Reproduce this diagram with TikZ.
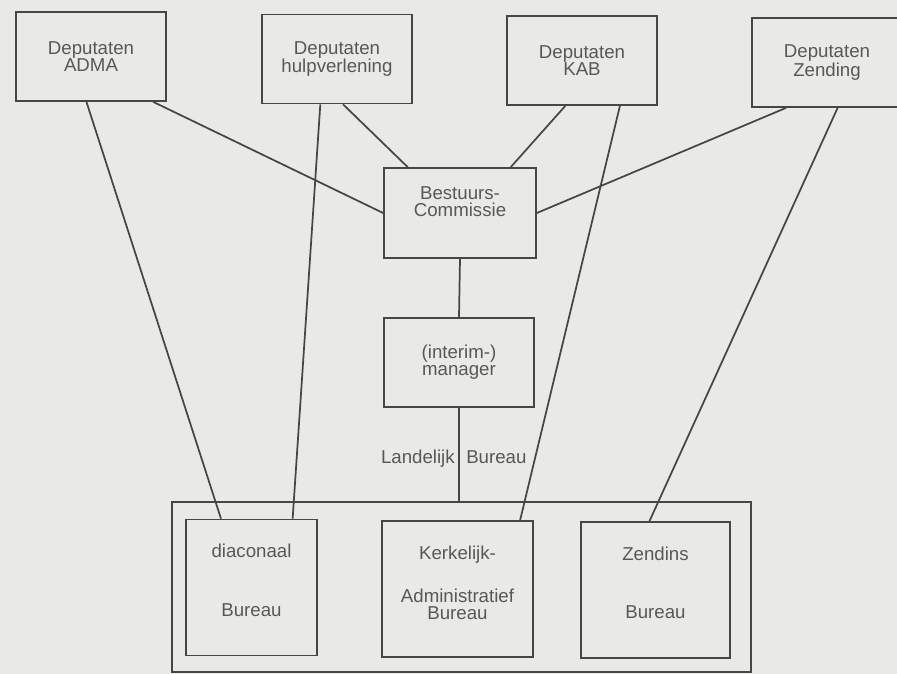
\documentclass[tikz,border=0pt]{standalone}
\usepackage{fontspec}
\setmainfont{Liberation Sans}
\usetikzlibrary{positioning,calc}

\definecolor{paper}{RGB}{233,233,230}
\definecolor{ink}{RGB}{70,70,70}
\definecolor{print}{RGB}{88,88,88}

\tikzset{basic/.style={draw=ink,line width=1.3pt,fill=paper,inner sep=0pt,align=center,text=print,font=\fontsize{14}{12.75}\selectfont}}
\tikzset{orgbox/.style={basic,minimum width=112.5pt,minimum height=66.75pt}}
\tikzset{bureau/.style={basic,minimum height=102pt}}
\tikzset{caption/.style={inner sep=0pt,align=center,text=print,font=\fontsize{14}{12.75}\selectfont}}
\tikzset{link/.style={draw=ink,line width=1.3pt}}

\begin{document}
\begin{tikzpicture}[x=0.75pt, y=-0.75pt]

	\fill [paper] (0,0) rectangle (897,674);
	\useasboundingbox (0,0) rectangle (897,674);

	% deputaten
	\foreach \n/\l/\x/\y in {adma/ADMA/91/56.5, hulp/hulpverlening/337/59, kab/KAB/582/60.5, zending/Zending/827/62.5}
	  \node [orgbox] (\n) at (\x,\y) {Deputaten\\\l};

	% bestuur and manager
	\node [orgbox, minimum width=114pt, minimum height=67.5pt] (bestuur) at (460,213) {Bestuurs-\\Commissie\\[4pt]};
	\node [orgbox] (manager) at (459,362.5) {(interim-)\\manager};

	% landelijk bureau
	\node [draw=ink, line width=1.3pt, minimum width=434.25pt, minimum height=127.5pt] (frame) at (461.5,587) {};
	\node [bureau, minimum width=98.25pt] (diac) at (251.5,587.5) {};
	\node [bureau, minimum width=113.25pt] (kerk) at (457.5,589) {};
	\node [bureau, minimum width=111.75pt] (zend) at (655.5,590) {};

	\node [caption, below=19pt of diac.north] (diac-text) {diaconaal\\[31pt]Bureau};
	\node [caption, below=19pt of kerk.north] (kerk-text) {Kerkelijk-\\[18.75pt]Administratief\\Bureau};
	\node [caption, below=19pt of zend.north] (zend-text) {Zendins\\[31pt]Bureau};

	\node [caption, anchor=base east] (lb-left) at (455,463) {Landelijk};
	\node [caption, anchor=base west] (lb-right) at (466,463) {Bureau};

	% bestuur -> manager -> bureau
	\draw [link] (bestuur.south) -- (manager.north);
	\draw [link] (manager.south) -- (manager.south |- frame.north);

	% deputaten -> bestuur
	\draw [link] ($(adma.south west)!0.91!(adma.south east)$) -- (bestuur.west);
	\draw [link] ($(hulp.south west)!0.54!(hulp.south east)$) -- ($(bestuur.north west)!0.16!(bestuur.north east)$);
	\draw [link] ($(kab.south west)!0.39!(kab.south east)$) -- ($(bestuur.north west)!0.83!(bestuur.north east)$);
	\draw [link] ($(zending.south west)!0.23!(zending.south east)$) -- (bestuur.east);

	% deputaten -> bureaus
	\foreach \a/\p/\b/\q in {adma/0.47/diac/0.27, hulp/0.39/diac/0.81, kab/0.75/kerk/0.91, zending/0.57/zend/0.46}
	  \draw [link] ($(\a.south west)!\p!(\a.south east)$) -- ($(\b.north west)!\q!(\b.north east)$);

\end{tikzpicture}
\end{document}
